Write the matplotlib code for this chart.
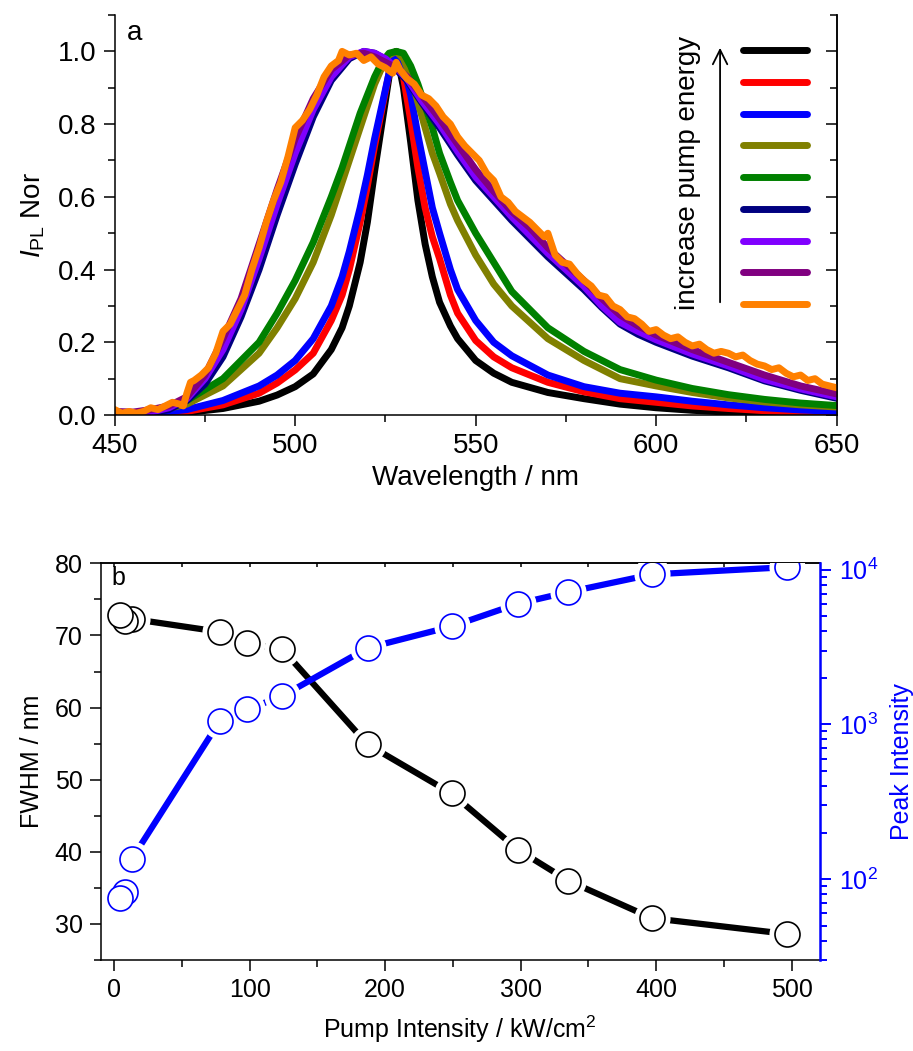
import matplotlib
matplotlib.use('Agg')
import matplotlib.pyplot as plt
from matplotlib.ticker import MultipleLocator, LogLocator, NullFormatter

plt.rcParams['font.family'] = ['Liberation Sans', 'DejaVu Sans']
plt.rcParams['mathtext.fontset'] = 'custom'
plt.rcParams['mathtext.rm'] = 'Liberation Sans'
plt.rcParams['mathtext.it'] = 'Liberation Sans:italic'
plt.rcParams['axes.linewidth'] = 1.1

# ---------------- panel a: normalised PL spectra ----------------
wl_narrow = [450, 460, 470, 480, 490, 495, 500, 505, 510, 513, 515, 518, 520, 522, 524, 526, 528,
             530, 532, 534, 536, 538, 540, 543, 545, 550, 555, 560, 570, 580, 590, 600, 610,
             620, 630, 640, 650]
pl_black = [0.0, 0.002, 0.007, 0.018, 0.038, 0.055, 0.078, 0.113, 0.18, 0.24, 0.30, 0.42, 0.53,
            0.67, 0.80, 0.93, 1.0, 0.90, 0.75, 0.59, 0.47, 0.38, 0.31, 0.245, 0.21, 0.15, 0.115,
            0.09, 0.062, 0.045, 0.03, 0.02, 0.013, 0.008, 0.005, 0.003, 0.002]
pl_red = [0.0, 0.003, 0.01, 0.028, 0.06, 0.088, 0.124, 0.17, 0.26, 0.33, 0.40, 0.53, 0.63, 0.74,
          0.84, 0.94, 1.0, 0.93, 0.81, 0.68, 0.57, 0.49, 0.43, 0.33, 0.28, 0.205, 0.16, 0.13,
          0.09, 0.064, 0.045, 0.035, 0.025, 0.018, 0.012, 0.007, 0.005]
pl_blue = [0.0, 0.004, 0.015, 0.04, 0.08, 0.11, 0.15, 0.21, 0.30, 0.38, 0.45, 0.57, 0.66, 0.76,
           0.85, 0.94, 1.0, 0.96, 0.88, 0.77, 0.67, 0.57, 0.50, 0.40, 0.345, 0.26, 0.20, 0.163,
           0.11, 0.078, 0.06, 0.05, 0.038, 0.028, 0.02, 0.014, 0.01]
pl_olive = [0.0, 0.008, 0.03, 0.08, 0.17, 0.24, 0.32, 0.42, 0.55, 0.64, 0.70, 0.79, 0.85, 0.91,
            0.955, 0.99, 1.0, 0.98, 0.93, 0.86, 0.79, 0.72, 0.665, 0.58, 0.535, 0.44, 0.36, 0.30,
            0.21, 0.15, 0.10, 0.08, 0.062, 0.047, 0.036, 0.028, 0.022]
pl_green = [0.0, 0.01, 0.04, 0.10, 0.20, 0.28, 0.37, 0.475, 0.60, 0.68, 0.74, 0.83, 0.88, 0.93,
            0.97, 0.995, 1.0, 0.995, 0.96, 0.91, 0.85, 0.79, 0.72, 0.64, 0.59, 0.50, 0.42, 0.34,
            0.24, 0.175, 0.125, 0.096, 0.073, 0.056, 0.043, 0.033, 0.026]

wl_broad = [450, 455, 460, 465, 470, 475, 480, 485, 490, 495, 500, 505, 510, 515, 519, 522, 525,
            528, 531, 535, 540, 545, 550, 555, 560, 565, 570, 575, 580, 585, 590, 595, 600, 610,
            620, 630, 640, 650]
pl_navy = [0.004, 0.004, 0.006, 0.015, 0.04, 0.085, 0.16, 0.27, 0.40, 0.55, 0.69, 0.82, 0.92,
           0.98, 1.0, 0.995, 0.978, 0.95, 0.92, 0.86, 0.79, 0.715, 0.645, 0.59, 0.535, 0.485,
           0.435, 0.39, 0.345, 0.295, 0.25, 0.222, 0.2, 0.162, 0.13, 0.094, 0.068, 0.046]
pl_violet = [0.005, 0.005, 0.008, 0.02, 0.045, 0.10, 0.18, 0.29, 0.43, 0.58, 0.72, 0.84, 0.93,
             0.985, 1.0, 0.995, 0.98, 0.955, 0.925, 0.865, 0.80, 0.725, 0.655, 0.60, 0.545,
             0.495, 0.445, 0.40, 0.354, 0.30, 0.255, 0.23, 0.207, 0.168, 0.135, 0.098, 0.072,
             0.05]
pl_purple = [0.01, 0.008, 0.015, 0.025, 0.05, 0.11, 0.21, 0.32, 0.47, 0.62, 0.76, 0.87, 0.95,
             0.99, 0.995, 0.985, 0.97, 0.955, 0.93, 0.88, 0.815, 0.745, 0.675, 0.615, 0.56,
             0.515, 0.46, 0.415, 0.37, 0.32, 0.275, 0.245, 0.22, 0.18, 0.145, 0.11, 0.08, 0.058]

wl_orange = [450, 452, 454, 456, 458, 460, 462, 464, 466, 468, 469, 470, 471, 472, 474, 476, 478,
             480, 482, 484, 486, 488, 490, 492, 494, 496, 498, 500, 502, 504, 506, 508, 510, 512,
             513, 515, 517, 519, 521, 523, 525, 527, 528, 529, 531, 533, 535, 537, 539, 541, 543,
             545, 547, 549, 551, 553, 555, 557, 559, 561, 563, 565, 567, 569, 570, 572, 574, 576,
             578, 580, 582, 584, 586, 588, 590, 592, 594, 596, 598, 600, 602, 604, 606, 608, 610,
             612, 614, 616, 618, 620, 622, 624, 626, 628, 630, 632, 634, 636, 638, 640, 642, 644,
             646, 648, 650]
pl_orange = [0.015, 0.005, 0.01, 0.005, 0.01, 0.02, 0.015, 0.025, 0.035, 0.03, 0.025, 0.06, 0.09,
             0.095, 0.11, 0.13, 0.17, 0.23, 0.25, 0.29, 0.33, 0.40, 0.46, 0.53, 0.59, 0.64, 0.71,
             0.79, 0.81, 0.84, 0.88, 0.93, 0.96, 0.975, 1.0, 0.99, 0.995, 0.975, 0.985, 0.965,
             0.955, 0.94, 0.97, 0.95, 0.925, 0.91, 0.88, 0.87, 0.85, 0.82, 0.80, 0.765, 0.74,
             0.72, 0.70, 0.665, 0.645, 0.60, 0.585, 0.56, 0.545, 0.53, 0.51, 0.49, 0.50, 0.44,
             0.42, 0.415, 0.39, 0.37, 0.355, 0.33, 0.325, 0.30, 0.29, 0.27, 0.265, 0.25, 0.23,
             0.235, 0.22, 0.21, 0.215, 0.2, 0.19, 0.195, 0.18, 0.17, 0.175, 0.17, 0.16, 0.165,
             0.15, 0.14, 0.135, 0.125, 0.13, 0.115, 0.105, 0.11, 0.095, 0.1, 0.085, 0.08, 0.075]

spectra = [
    (wl_narrow, pl_black, '#000000'),
    (wl_narrow, pl_red, '#ff0000'),
    (wl_narrow, pl_blue, '#0000ff'),
    (wl_narrow, pl_olive, '#808000'),
    (wl_narrow, pl_green, '#008000'),
    (wl_broad, pl_navy, '#000080'),
    (wl_broad, pl_violet, '#8000ff'),
    (wl_broad, pl_purple, '#800080'),
    (wl_orange, pl_orange, '#ff8000'),
]

# ---------------- panel b: FWHM and peak intensity ----------------
pump = [4, 8, 13, 78, 98, 124, 187, 249, 298, 335, 397, 497]
fwhm = [72.9, 72.0, 72.3, 70.5, 68.9, 68.1, 54.9, 48.1, 40.3, 36.0, 30.8, 28.6]
peak = [75, 82, 135, 1055, 1250, 1525, 3120, 4300, 6030, 7170, 9330, 10400]

fig = plt.figure(figsize=(9.13, 10.51), dpi=100)
fig.patch.set_facecolor('white')

# === panel a ===
ax = fig.add_axes([0.1256, 0.6051, 0.7908, 0.3806])
for x, y, c in spectra:
    ax.plot(x, y, color=c, lw=5, solid_joinstyle='round', solid_capstyle='round')
ax.set_xlim(450, 650)
ax.set_ylim(0, 1.10)
ax.xaxis.set_major_locator(MultipleLocator(50))
ax.xaxis.set_minor_locator(MultipleLocator(25))
ax.yaxis.set_major_locator(MultipleLocator(0.2))
ax.yaxis.set_minor_locator(MultipleLocator(0.1))
ax.yaxis.set_major_formatter(plt.FormatStrFormatter('%.1f'))
ax.spines['top'].set_visible(False)
ax.tick_params(which='major', direction='out', length=8, width=1.1, labelsize=20, pad=5)
ax.tick_params(which='minor', direction='out', length=5, width=1.1)
sec = ax.secondary_yaxis('right')
sec.yaxis.set_major_locator(MultipleLocator(0.2))
sec.yaxis.set_minor_locator(MultipleLocator(0.1))
sec.tick_params(which='major', direction='in', length=8, width=1.1, labelright=False)
sec.tick_params(which='minor', direction='in', length=5, width=1.1)
ax.set_xlabel('Wavelength / nm', fontsize=20, labelpad=4)
ax.set_ylabel(r'$\mathit{I}_{\mathrm{PL}}$ Nor', fontsize=20, labelpad=8)
ax.text(0.028, 0.955, 'a', transform=ax.transAxes, fontsize=20, ha='center', va='center')

# legend lines (no labels) and arrow
for i, (x, y, c) in enumerate(spectra):
    yy = 0.9125 - i * 0.0794
    ax.plot([0.870, 0.959], [yy, yy], color=c, lw=5, solid_capstyle='round',
            transform=ax.transAxes)
ax.annotate('', xy=(0.8385, 0.925), xytext=(0.8385, 0.275), xycoords='axes fraction',
            arrowprops=dict(arrowstyle='->', color='black', lw=1.3, mutation_scale=26))
ax.text(0.794, 0.605, 'increase pump energy', transform=ax.transAxes, rotation=90,
        fontsize=20, ha='center', va='center')

# === panel b ===
bx = fig.add_axes([0.1103, 0.0866, 0.7878, 0.3774])
bx.plot(pump, fwhm, color='black', lw=4.5, solid_capstyle='round', zorder=1)
bx.plot(pump, fwhm, 'o', ms=26, mfc='white', mec='none', zorder=2)
bx.plot(pump[::-1], fwhm[::-1], 'o', ms=18, mfc='white', mec='black', mew=1.2, zorder=3)
bx.set_xlim(-10, 521)
bx.set_ylim(25, 80)
bx.xaxis.set_major_locator(MultipleLocator(100))
bx.xaxis.set_minor_locator(MultipleLocator(50))
bx.yaxis.set_major_locator(MultipleLocator(10))
bx.yaxis.set_minor_locator(MultipleLocator(5))
bx.spines['right'].set_visible(False)
bx.tick_params(which='major', direction='out', length=8, width=1.1, labelsize=18, pad=5)
bx.tick_params(which='minor', direction='out', length=5, width=1.1)
topx = bx.secondary_xaxis('top')
topx.xaxis.set_major_locator(MultipleLocator(50))
topx.tick_params(which='major', direction='in', length=3, width=1.1, labeltop=False)
bx.set_xlabel('Pump Intensity / kW/cm$^2$', fontsize=18, labelpad=8)
bx.set_ylabel('FWHM / nm', fontsize=18, labelpad=8)
bx.text(0.025, 0.963, 'b', transform=bx.transAxes, fontsize=18, ha='center', va='center')

tx = bx.twinx()
tx.set_yscale('log')
tx.plot(pump, peak, color='blue', lw=4.5, solid_capstyle='round', zorder=1)
tx.plot(pump, peak, 'o', ms=26, mfc='white', mec='none', zorder=2)
tx.plot(pump[::-1], peak[::-1], 'o', ms=18, mfc='white', mec='blue', mew=1.2, zorder=3)
tx.set_ylim(30, 1.1e4)
tx.set_xlim(-10, 521)
for s in ['top', 'bottom', 'left']:
    tx.spines[s].set_visible(False)
tx.spines['right'].set_color('blue')
tx.spines['right'].set_linewidth(1.8)
tx.yaxis.set_major_locator(LogLocator(base=10))
tx.yaxis.set_minor_locator(LogLocator(base=10, subs=range(2, 10)))
tx.yaxis.set_minor_formatter(NullFormatter())
tx.tick_params(axis='y', which='major', direction='out', length=8, width=1.4, colors='blue',
               labelsize=18, pad=6)
tx.tick_params(axis='y', which='minor', direction='out', length=5, width=1.4, colors='blue')
tx.set_ylabel('Peak Intensity', fontsize=18, color='blue', labelpad=8)

fig.savefig('out.png', dpi=100, facecolor='white')
